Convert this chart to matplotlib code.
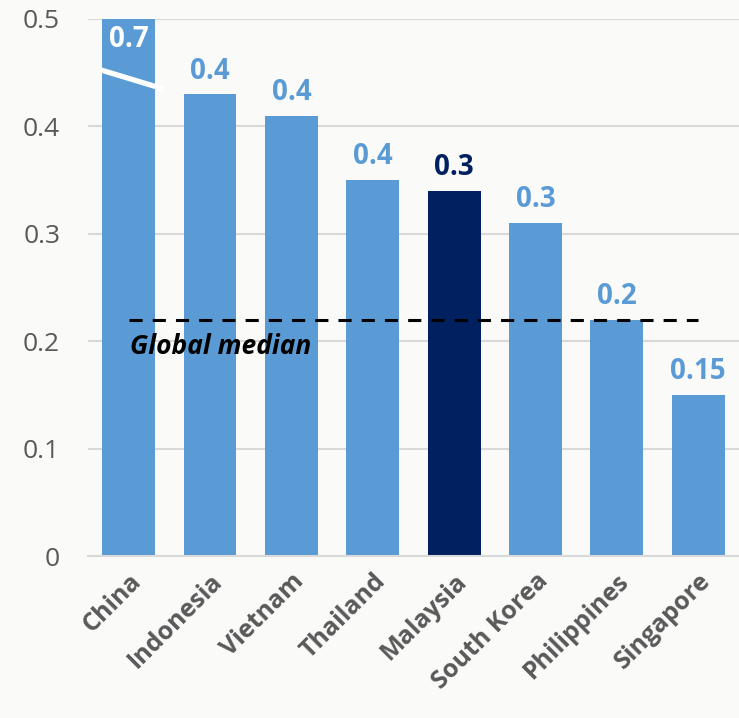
import matplotlib
matplotlib.use("Agg")
import matplotlib.pyplot as plt

plt.rcParams['font.family'] = ['Open Sans', 'DejaVu Sans']

countries = ["China", "Indonesia", "Vietnam", "Thailand", "Malaysia",
             "South Korea", "Philippines", "Singapore"]
values = [0.7, 0.43, 0.41, 0.35, 0.34, 0.31, 0.22, 0.15]
labels = ["0.7", "0.4", "0.4", "0.4", "0.3", "0.3", "0.2", "0.15"]
global_median = 0.22
highlight = "Malaysia"

light = "#5b9bd5"
dark = "#002060"
grey = "#595959"
bg = "#fafaf9"
ymax = 0.5

fig = plt.figure(figsize=(7.39, 7.18), dpi=100, facecolor=bg)
ax = fig.add_axes([0.119, 0.2256, 0.881, 0.748])
ax.set_facecolor(bg)

x = list(range(len(countries)))
colors = [dark if c == highlight else light for c in countries]
ax.bar(x, values, width=0.65, color=colors, zorder=2)

ax.set_xlim(-0.5, len(countries) - 0.5)
ax.set_ylim(0, ymax)
ax.set_yticks([0, 0.1, 0.2, 0.3, 0.4, 0.5])
ax.set_yticklabels(["0", "0.1", "0.2", "0.3", "0.4", "0.5"])
ax.yaxis.grid(True, color="#d9d9d9", linewidth=1.5, zorder=0)
ax.set_axisbelow(True)
for s in ["top", "right", "left"]:
    ax.spines[s].set_visible(False)
ax.spines["bottom"].set_color("#d9d9d9")
ax.spines["bottom"].set_linewidth(1.5)
ax.tick_params(axis="y", length=0, pad=20, labelsize=19, labelcolor=grey)
ax.tick_params(axis="x", length=0, pad=9)
ax.set_xticks(x)
ax.set_xticklabels(countries, rotation=45, ha="right", rotation_mode="anchor",
                   fontsize=18, fontweight="bold", color=grey)

# value labels; the off-scale bar gets its label inside with a break mark
for i, (v, lab, c) in enumerate(zip(values, labels, colors)):
    if v > ymax:
        ax.text(i, 0.481, lab, ha="center", va="center", fontsize=20,
                fontweight="bold", color="white", zorder=4)
        ax.plot([-0.34, 0.43], [0.4525, 0.4348], color="white", linewidth=3.8,
                solid_capstyle="butt", zorder=3, clip_on=False)
    else:
        ax.text(i, v + 0.008, lab, ha="center", va="bottom", fontsize=20,
                fontweight="bold", color=c, zorder=4)

ax.plot([0, len(countries) - 1], [global_median, global_median], color="black",
        linestyle=(0, (4.3, 3.3)), linewidth=2.2, zorder=3)
ax.text(0.02, global_median - 0.025, "Global median", ha="left", va="center",
        fontsize=19, fontweight="bold", fontstyle="italic", color="black", zorder=4)

fig.savefig("out.png", dpi=100, facecolor=bg)
